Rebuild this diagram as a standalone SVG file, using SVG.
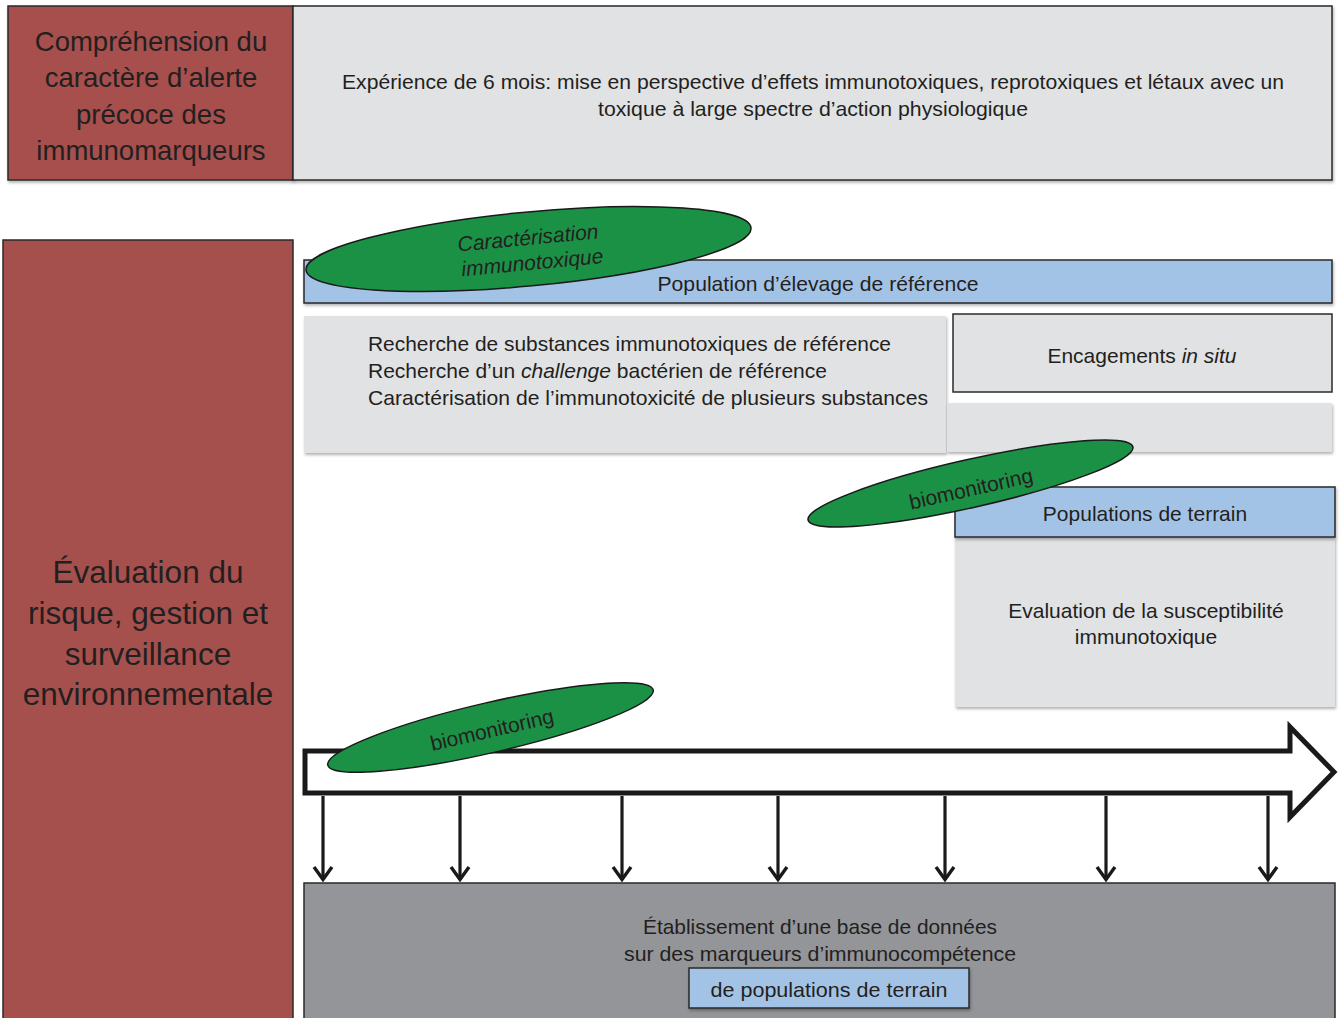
<svg xmlns="http://www.w3.org/2000/svg" width="1341" height="1018" viewBox="0 0 1341 1018">
<style>
text{font-family:"Liberation Sans","Open Sans",sans-serif;fill:#231f20}
.red{fill:#a6504d;stroke:#2a2a2a;stroke-width:1.5}
.gray{fill:#e1e2e4}
.grayS{fill:#e1e2e4;stroke:#2a2a2a;stroke-width:1.5}
.blue{fill:#a3c3e6;stroke:#2a2a2a;stroke-width:1.5}
.green{fill:#1b9146;stroke:#1a1a1a;stroke-width:1.5}
.dark{fill:#939598;stroke:#2a2a2a;stroke-width:1.5}
.c{text-anchor:middle}
.it{font-style:italic}
.t20{font-size:21px}
.conn{stroke:#1a1a1a;stroke-width:3.2;fill:none}
</style>
<defs>
<filter id="sh" x="-5%" y="-5%" width="110%" height="120%">
<feDropShadow dx="1" dy="2" stdDeviation="1.5" flood-color="#000" flood-opacity="0.3"/>
</filter>
<marker id="v" viewBox="0 0 18 22" refX="16" refY="11" markerWidth="18" markerHeight="22" markerUnits="userSpaceOnUse" orient="auto">
<path d="M3,2 L15.5,11 L3,20" fill="none" stroke="#1a1a1a" stroke-width="3.4"/>
</marker>
</defs>

<g id="top-left">
<rect class="red" x="8" y="6" width="285" height="174" filter="url(#sh)"/>
<text class="c" x="151" y="51" font-size="27.5">Compréhension du</text>
<text class="c" x="151" y="87" font-size="27.5">caractère d’alerte</text>
<text class="c" x="151" y="124" font-size="27.5">précoce des</text>
<text class="c" x="151" y="160" font-size="27.5">immunomarqueurs</text>
</g>

<g id="top-right">
<rect class="grayS" x="293" y="6" width="1039" height="174" filter="url(#sh)"/>
<text class="c t20" x="813" y="89" textLength="942" lengthAdjust="spacingAndGlyphs">Expérience de 6 mois: mise en perspective d’effets immunotoxiques, reprotoxiques et létaux avec un</text>
<text class="c t20" x="813" y="116" textLength="430" lengthAdjust="spacingAndGlyphs">toxique à large spectre d’action physiologique</text>
</g>

<g id="left-eval">
<rect class="red" x="3" y="240" width="290" height="790"/>
<text class="c" x="148" y="583" font-size="31.5">Évaluation du</text>
<text class="c" x="148" y="624" font-size="31.5">risque, gestion et</text>
<text class="c" x="148" y="665" font-size="31.5">surveillance</text>
<text class="c" x="148" y="705" font-size="31.5">environnementale</text>
</g>

<g id="population-elevage">
<rect class="blue" x="304" y="260" width="1028" height="43" filter="url(#sh)"/>
<text class="c t20" x="818" y="291" textLength="321" lengthAdjust="spacingAndGlyphs">Population d’élevage de référence</text>
</g>

<g id="caracterisation">
<ellipse class="green" cx="528.5" cy="249" rx="223.5" ry="37" transform="rotate(-5.4 528.5 249)"/>
<g transform="rotate(-5.4 528.5 249)">
<text class="c it t20" x="529" y="245">Caractérisation</text>
<text class="c it t20" x="531" y="270">immunotoxique</text>
</g>
</g>

<g id="recherche">
<rect class="gray" x="304" y="316" width="642" height="137" filter="url(#sh)"/>
<text class="t20" x="368" y="351" textLength="523" lengthAdjust="spacingAndGlyphs">Recherche de substances immunotoxiques de référence</text>
<text class="t20" x="368" y="378" textLength="459" lengthAdjust="spacingAndGlyphs">Recherche d’un <tspan class="it">challenge</tspan> bactérien de référence</text>
<text class="t20" x="368" y="405" textLength="560" lengthAdjust="spacingAndGlyphs">Caractérisation de l’immunotoxicité de plusieurs substances</text>
</g>

<g id="encagements">
<rect class="gray" x="947" y="403" width="385" height="49" filter="url(#sh)"/>
<rect class="grayS" x="953" y="314" width="379" height="78"/>
<text class="c t20" x="1142" y="363">Encagements <tspan class="it">in situ</tspan></text>
</g>

<g id="evaluation-susceptibilite">
<rect class="gray" x="955" y="537" width="380" height="170" filter="url(#sh)"/>
<text class="c t20" x="1146" y="618">Evaluation de la susceptibilité</text>
<text class="c t20" x="1146" y="644">immunotoxique</text>
</g>

<g id="populations-terrain">
<rect class="blue" x="955" y="487" width="380" height="50" filter="url(#sh)"/>
<text class="c t20" x="1145" y="521">Populations de terrain</text>
</g>

<g id="biomonitoring-1">
<ellipse class="green" cx="970.5" cy="483.5" rx="166.5" ry="24" transform="rotate(-12.7 970.5 483.5)"/>
<text class="c t20" x="971" y="496" transform="rotate(-12.7 971 489)">biomonitoring</text>
</g>

<g id="base-donnees">
<rect class="dark" x="304" y="883" width="1031" height="145"/>
<text class="c t20" x="820" y="934" textLength="354" lengthAdjust="spacingAndGlyphs">Établissement d’une base de données</text>
<text class="c t20" x="820" y="961" textLength="392" lengthAdjust="spacingAndGlyphs">sur des marqueurs d’immunocompétence</text>
<rect class="blue" x="689" y="968" width="280" height="40" filter="url(#sh)"/>
<text class="c t20" x="829" y="997" textLength="237" lengthAdjust="spacingAndGlyphs">de populations de terrain</text>
</g>

<g id="connectors">
<path d="M305,751 L1290,751 L1290,727 L1334,772 L1290,817 L1290,793 L305,793 Z" fill="#fff" stroke="#1a1a1a" stroke-width="5" stroke-miterlimit="10"/>
<line class="conn" x1="323" y1="796" x2="323" y2="880" marker-end="url(#v)"/>
<line class="conn" x1="460" y1="796" x2="460" y2="880" marker-end="url(#v)"/>
<line class="conn" x1="622" y1="796" x2="622" y2="880" marker-end="url(#v)"/>
<line class="conn" x1="778" y1="796" x2="778" y2="880" marker-end="url(#v)"/>
<line class="conn" x1="945" y1="796" x2="945" y2="880" marker-end="url(#v)"/>
<line class="conn" x1="1106" y1="796" x2="1106" y2="880" marker-end="url(#v)"/>
<line class="conn" x1="1268" y1="796" x2="1268" y2="880" marker-end="url(#v)"/>
</g>

<g id="biomonitoring-2">
<ellipse class="green" cx="490.5" cy="727.5" rx="167" ry="25" transform="rotate(-13 490.5 727.5)"/>
<text class="c t20" x="492" y="737" transform="rotate(-13 492 730)">biomonitoring</text>
</g>
</svg>
